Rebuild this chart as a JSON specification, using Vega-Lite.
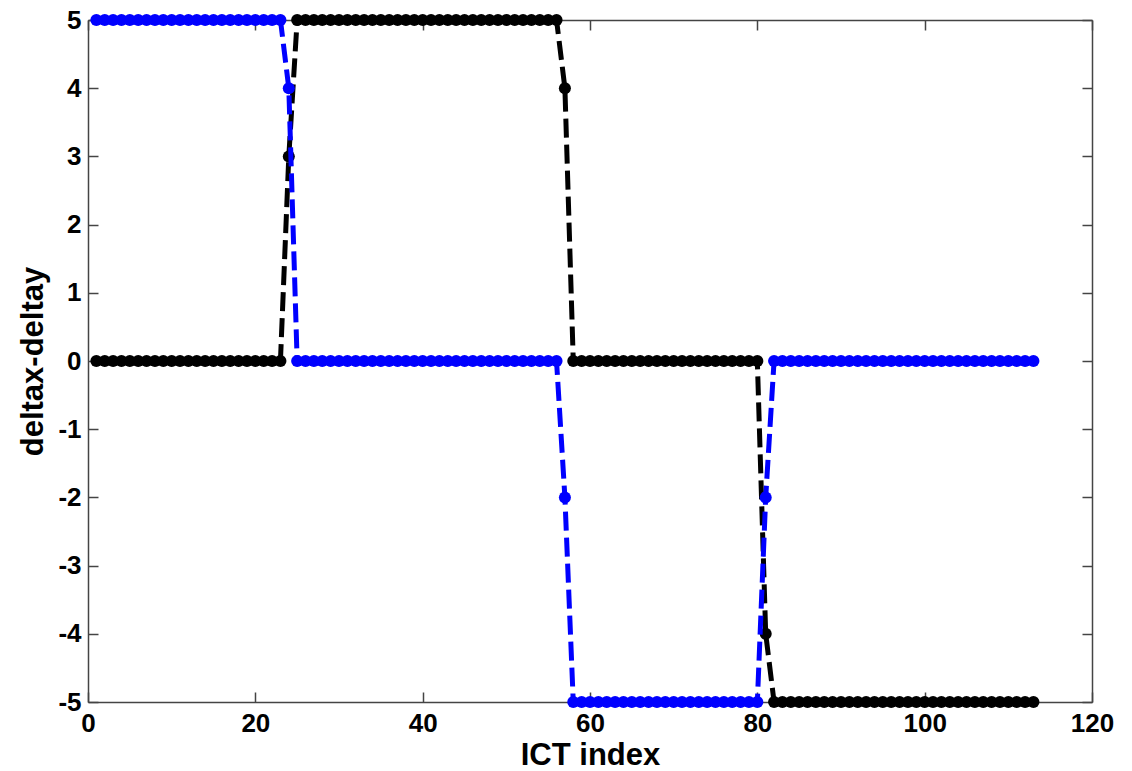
{
  "$schema": "https://vega.github.io/schema/vega-lite/v6.json",
  "width": 1004,
  "height": 682,
  "autosize": {"type": "none"},
  "padding": {"left": 88, "top": 20, "right": 40, "bottom": 69},
  "background": "white",
  "config": {
    "view": {"stroke": null},
    "axis": {
      "grid": false,
      "domainColor": "#444444",
      "domainWidth": 1.5,
      "tickColor": "#444444",
      "tickWidth": 1.5,
      "tickSize": -10,
      "labelFlush": false,
      "labelFont": "Liberation Sans",
      "labelFontWeight": "bold",
      "labelFontSize": 26,
      "labelColor": "black",
      "labelExpr": "'' + datum.value",
      "titleFont": "Liberation Sans",
      "titleFontWeight": "bold",
      "titleFontSize": 31,
      "titleColor": "black"
    }
  },
  "datasets": {
    "black": [
      {"x":1,"y":0},{"x":2,"y":0},{"x":3,"y":0},{"x":4,"y":0},{"x":5,"y":0},{"x":6,"y":0},{"x":7,"y":0},{"x":8,"y":0},{"x":9,"y":0},{"x":10,"y":0},
      {"x":11,"y":0},{"x":12,"y":0},{"x":13,"y":0},{"x":14,"y":0},{"x":15,"y":0},{"x":16,"y":0},{"x":17,"y":0},{"x":18,"y":0},{"x":19,"y":0},{"x":20,"y":0},
      {"x":21,"y":0},{"x":22,"y":0},{"x":23,"y":0},{"x":24,"y":3},{"x":25,"y":5},{"x":26,"y":5},{"x":27,"y":5},{"x":28,"y":5},{"x":29,"y":5},{"x":30,"y":5},
      {"x":31,"y":5},{"x":32,"y":5},{"x":33,"y":5},{"x":34,"y":5},{"x":35,"y":5},{"x":36,"y":5},{"x":37,"y":5},{"x":38,"y":5},{"x":39,"y":5},{"x":40,"y":5},
      {"x":41,"y":5},{"x":42,"y":5},{"x":43,"y":5},{"x":44,"y":5},{"x":45,"y":5},{"x":46,"y":5},{"x":47,"y":5},{"x":48,"y":5},{"x":49,"y":5},{"x":50,"y":5},
      {"x":51,"y":5},{"x":52,"y":5},{"x":53,"y":5},{"x":54,"y":5},{"x":55,"y":5},{"x":56,"y":5},{"x":57,"y":4},{"x":58,"y":0},{"x":59,"y":0},{"x":60,"y":0},
      {"x":61,"y":0},{"x":62,"y":0},{"x":63,"y":0},{"x":64,"y":0},{"x":65,"y":0},{"x":66,"y":0},{"x":67,"y":0},{"x":68,"y":0},{"x":69,"y":0},{"x":70,"y":0},
      {"x":71,"y":0},{"x":72,"y":0},{"x":73,"y":0},{"x":74,"y":0},{"x":75,"y":0},{"x":76,"y":0},{"x":77,"y":0},{"x":78,"y":0},{"x":79,"y":0},{"x":80,"y":0},
      {"x":81,"y":-4},{"x":82,"y":-5},{"x":83,"y":-5},{"x":84,"y":-5},{"x":85,"y":-5},{"x":86,"y":-5},{"x":87,"y":-5},{"x":88,"y":-5},{"x":89,"y":-5},{"x":90,"y":-5},
      {"x":91,"y":-5},{"x":92,"y":-5},{"x":93,"y":-5},{"x":94,"y":-5},{"x":95,"y":-5},{"x":96,"y":-5},{"x":97,"y":-5},{"x":98,"y":-5},{"x":99,"y":-5},{"x":100,"y":-5},
      {"x":101,"y":-5},{"x":102,"y":-5},{"x":103,"y":-5},{"x":104,"y":-5},{"x":105,"y":-5},{"x":106,"y":-5},{"x":107,"y":-5},{"x":108,"y":-5},{"x":109,"y":-5},{"x":110,"y":-5},
      {"x":111,"y":-5},{"x":112,"y":-5},{"x":113,"y":-5}
    ],
    "blue": [
      {"x":1,"y":5},{"x":2,"y":5},{"x":3,"y":5},{"x":4,"y":5},{"x":5,"y":5},{"x":6,"y":5},{"x":7,"y":5},{"x":8,"y":5},{"x":9,"y":5},{"x":10,"y":5},
      {"x":11,"y":5},{"x":12,"y":5},{"x":13,"y":5},{"x":14,"y":5},{"x":15,"y":5},{"x":16,"y":5},{"x":17,"y":5},{"x":18,"y":5},{"x":19,"y":5},{"x":20,"y":5},
      {"x":21,"y":5},{"x":22,"y":5},{"x":23,"y":5},{"x":24,"y":4},{"x":25,"y":0},{"x":26,"y":0},{"x":27,"y":0},{"x":28,"y":0},{"x":29,"y":0},{"x":30,"y":0},
      {"x":31,"y":0},{"x":32,"y":0},{"x":33,"y":0},{"x":34,"y":0},{"x":35,"y":0},{"x":36,"y":0},{"x":37,"y":0},{"x":38,"y":0},{"x":39,"y":0},{"x":40,"y":0},
      {"x":41,"y":0},{"x":42,"y":0},{"x":43,"y":0},{"x":44,"y":0},{"x":45,"y":0},{"x":46,"y":0},{"x":47,"y":0},{"x":48,"y":0},{"x":49,"y":0},{"x":50,"y":0},
      {"x":51,"y":0},{"x":52,"y":0},{"x":53,"y":0},{"x":54,"y":0},{"x":55,"y":0},{"x":56,"y":0},{"x":57,"y":-2},{"x":58,"y":-5},{"x":59,"y":-5},{"x":60,"y":-5},
      {"x":61,"y":-5},{"x":62,"y":-5},{"x":63,"y":-5},{"x":64,"y":-5},{"x":65,"y":-5},{"x":66,"y":-5},{"x":67,"y":-5},{"x":68,"y":-5},{"x":69,"y":-5},{"x":70,"y":-5},
      {"x":71,"y":-5},{"x":72,"y":-5},{"x":73,"y":-5},{"x":74,"y":-5},{"x":75,"y":-5},{"x":76,"y":-5},{"x":77,"y":-5},{"x":78,"y":-5},{"x":79,"y":-5},{"x":80,"y":-5},
      {"x":81,"y":-2},{"x":82,"y":0},{"x":83,"y":0},{"x":84,"y":0},{"x":85,"y":0},{"x":86,"y":0},{"x":87,"y":0},{"x":88,"y":0},{"x":89,"y":0},{"x":90,"y":0},
      {"x":91,"y":0},{"x":92,"y":0},{"x":93,"y":0},{"x":94,"y":0},{"x":95,"y":0},{"x":96,"y":0},{"x":97,"y":0},{"x":98,"y":0},{"x":99,"y":0},{"x":100,"y":0},
      {"x":101,"y":0},{"x":102,"y":0},{"x":103,"y":0},{"x":104,"y":0},{"x":105,"y":0},{"x":106,"y":0},{"x":107,"y":0},{"x":108,"y":0},{"x":109,"y":0},{"x":110,"y":0},
      {"x":111,"y":0},{"x":112,"y":0},{"x":113,"y":0}
    ]
  },
  "layer": [
    {
      "data": {"name": "black"},
      "mark": {"type": "line", "color": "black", "strokeWidth": 5, "strokeDash": [19, 7]},
      "encoding": {
        "x": {"field": "x", "type": "quantitative", "scale": {"domain": [0, 120], "nice": false, "zero": false},
              "axis": {"orient": "bottom", "title": "ICT index", "values": [0, 20, 40, 60, 80, 100, 120], "labelPadding": 18, "titlePadding": 4}},
        "y": {"field": "y", "type": "quantitative", "scale": {"domain": [-5, 5], "nice": false},
              "axis": {"orient": "left", "title": "deltax-deltay", "values": [-5, -4, -3, -2, -1, 0, 1, 2, 3, 4, 5], "labelPadding": 17, "titlePadding": 8}}
      }
    },
    {
      "data": {"name": "black"},
      "mark": {"type": "point", "filled": true, "color": "black", "size": 145, "opacity": 1, "strokeWidth": 0},
      "encoding": {
        "x": {"field": "x", "type": "quantitative", "axis": null},
        "y": {"field": "y", "type": "quantitative", "axis": null}
      }
    },
    {
      "data": {"name": "blue"},
      "mark": {"type": "line", "color": "#0000ff", "strokeWidth": 5, "strokeDash": [19, 7]},
      "encoding": {
        "x": {"field": "x", "type": "quantitative",
              "axis": {"orient": "top", "title": null, "labels": false, "values": [0, 20, 40, 60, 80, 100, 120]}},
        "y": {"field": "y", "type": "quantitative",
              "axis": {"orient": "right", "title": null, "labels": false, "values": [-5, -4, -3, -2, -1, 0, 1, 2, 3, 4, 5]}}
      }
    },
    {
      "data": {"name": "blue"},
      "mark": {"type": "point", "filled": true, "color": "#0000ff", "size": 145, "opacity": 1, "strokeWidth": 0},
      "encoding": {
        "x": {"field": "x", "type": "quantitative", "axis": null},
        "y": {"field": "y", "type": "quantitative", "axis": null}
      }
    }
  ],
  "resolve": {"axis": {"x": "independent", "y": "independent"}}
}
